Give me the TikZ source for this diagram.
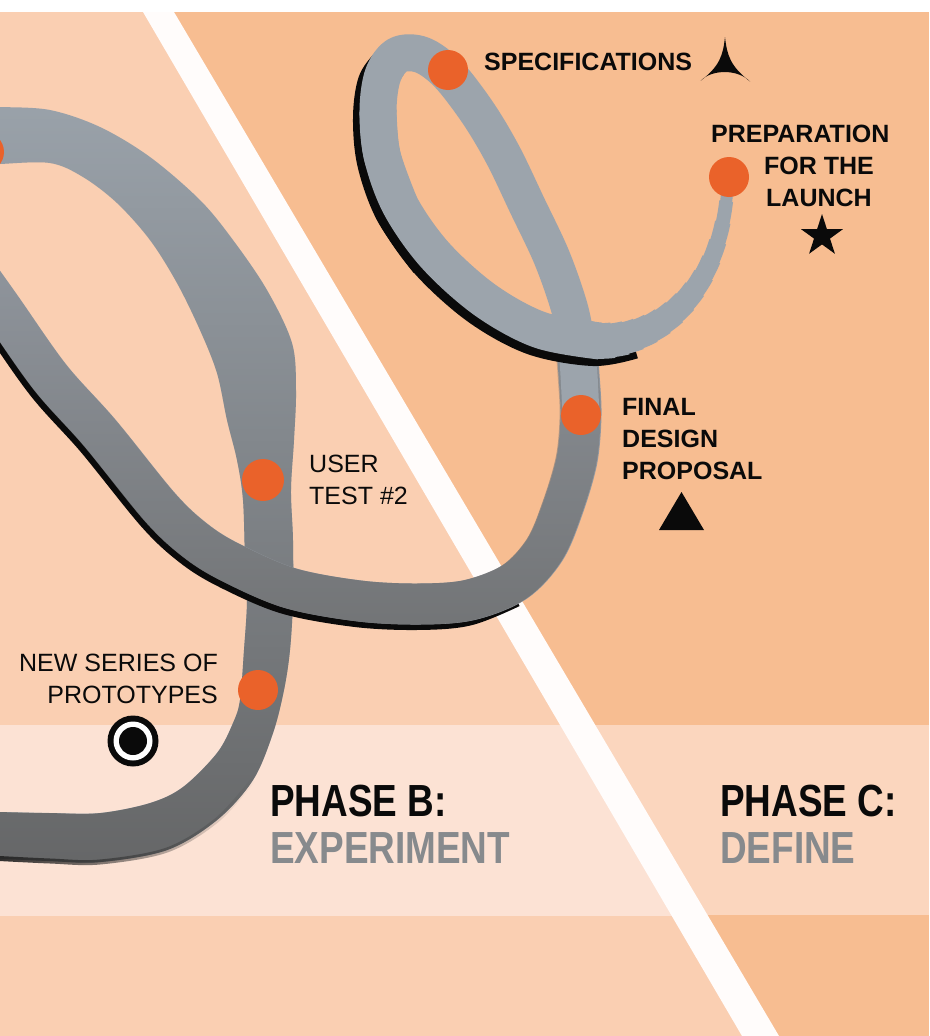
\documentclass[tikz,border=0pt]{standalone}
\usepackage{fontspec}
\setmainfont{Liberation Sans}
\newfontfamily\condfont[FakeStretch=0.82]{Liberation Sans}
\usetikzlibrary{fadings}
\definecolor{bgL}{HTML}{FACFB2}
\definecolor{bgR}{HTML}{F7BD91}
\definecolor{bandL}{HTML}{FCE2D4}
\definecolor{bandR}{HTML}{FBD6BE}
\definecolor{dotor}{HTML}{EA622A}
\definecolor{ribL}{HTML}{9AA2AA}
\definecolor{ribD}{HTML}{666768}
\definecolor{ribM}{HTML}{9298A0}
\definecolor{ribMD}{HTML}{737577}
\definecolor{ribR}{HTML}{9CA4AC}
\definecolor{phgray}{HTML}{878A8D}
\definecolor{ink}{HTML}{0A0A0A}
\tikzfading[name=fadeup, top color=transparent!100, bottom color=transparent!0]
\tikzfading[name=faderight, left color=transparent!0, right color=transparent!100]
\begin{document}
\begin{tikzpicture}[x=1pt,y=-1pt,
  dot/.style={circle, fill=dotor, minimum size=40pt, inner sep=0pt},
  lbl/.style={inner sep=0pt, text=ink, font=\fontsize{25}{32}\selectfont},
  lblb/.style={inner sep=0pt, text=ink, font=\fontsize{25}{32}\selectfont\bfseries},
  phase/.style={inner sep=0pt, text=ink, font=\condfont\fontsize{45}{47}\selectfont\bfseries},
  rib/.style={line width=#1pt, line cap=butt, line join=round},
  shad/.style={line width=#1pt, line cap=butt, line join=round, color=ink}]
\useasboundingbox (0,0) rectangle (929,1036);
\clip (0,0) rectangle (929,1036);
% ---------- background ----------
\fill[bgR] (0,0) rectangle (929,1036);
\fill[bgL] (0,12) -- (158,12) -- (760,1036) -- (0,1036) -- cycle;
\fill[bandR] (0,725) rectangle (929,915);
\begin{scope}
  \clip (0,725) rectangle (929,915);
  \fill[bandL] (0,12) -- (158,12) -- (760,1036) -- (0,1036) -- cycle;
\end{scope}
\fill[white] (0,0) rectangle (929,12);
\fill[white!96!bgR] (143,12) -- (174,12) -- (779,1036) -- (742,1036) -- cycle;
% ---------- ribbon, phase B loop (filled band of varying width) ----------
\def\pathA{plot[smooth, tension=0.55] coordinates {(-10,858) (50,861) (100,862) (167,850) (217,820) (253,780) (273,733) (284,690) (290,650) (293,600) (293,540) (291,490) (294,440) (296,390) (292,343) (267,290) (233,240) (200,200) (150,157) (100,127) (50,110) (0,107) (-10,107)}
  -- plot[smooth, tension=0.55] coordinates {(-10,165) (0,164) (50,163) (83,177) (117,203) (150,240) (177,283) (200,330) (217,373) (227,420) (237,460) (243,500) (245,560) (247,601) (244,650) (240,700) (233,723) (217,753) (183,787) (150,803) (100,813) (50,813) (0,812) (-10,812)} -- cycle}
\fill[ribL] \pathA;
\fill[ribD, path fading=fadeup] \pathA;
\draw[line width=5pt, color=black!85, path fading=faderight] plot[smooth, tension=0.55] coordinates {(-10,858) (50,861) (100,862) (167,850) (217,820) (253,780)};
% ---------- ribbon, sweep and phase C loop ----------
\def\pathBa{plot[smooth, tension=0.55] coordinates {(-40,250) (0,306) (50,377) (100,433) (160,507) (195,540) (230,562) (290,588) (360,601) (420,604) (470,600) (515,582) (545,550) (563,508) (577,460) (581,415) (579,375) (577,350)}}
\draw[shad=40, shift={(-4,6)}] plot[smooth, tension=0.55] coordinates {(-40,250) (0,306) (50,377) (100,433) (160,507) (195,540) (230,562) (290,588) (360,601) (420,604) (470,600) (515,582)};
\draw[shad=36, shift={(-7,7)}] plot[smooth, tension=0.55] coordinates {(398,55) (383,75) (378,110) (382,155) (400,205) (435,255)};
\draw[rib=41, ribM] \pathBa;
\draw[rib=41, ribMD, path fading=fadeup] \pathBa;
\draw[rib=37, ribR] plot[smooth, tension=0.55] coordinates {(581,415) (579,375) (577,350) (570,310) (552,258) (527,205) (503,155) (478,113) (448,74) (422,55) (398,55) (383,75) (378,110) (382,155) (400,205)};
\draw[shad=34, shift={(-7,8)}] plot[smooth, tension=0.55] coordinates {(382,155) (400,205) (435,255) (485,300) (540,330) (600,341) (640,334)};
\draw[rib=37, ribR] plot[smooth, tension=0.55] coordinates {(378,110) (382,155) (400,205) (435,255) (485,300) (540,330) (600,341)};
\foreach \k in {1,...,14} {
  \pgfmathsetmacro\tk{\k/14}
  \pgfmathsetmacro\wk{37.5-25.5*\tk}
  \draw[line width=\wk pt, ribR, line cap=butt] plot[domain=-0.06:\tk, samples=40, variable=\t, smooth]
    ({(1-\t)^3*600+3*(1-\t)^2*\t*660+3*(1-\t)*\t^2*724+\t^3*728},
     {(1-\t)^3*341+3*(1-\t)^2*\t*341+3*(1-\t)*\t^2*290+\t^3*178});
}
% ---------- milestones ----------
\node[dot] (prev) at (-16,152) {};
\node[dot] (spec) at (448,70) {};
\node[dot] (prep) at (729,177) {};
\node[dot] (final) at (581,415) {};
\node[dot, minimum size=42pt] (user) at (263,480) {};
\node[dot] (proto) at (258,690) {};
% ---------- labels ----------
\node[lblb, anchor=base west] (tspec) at (484,70) {SPECIFICATIONS};
\node[lblb, anchor=base west] (tprep) at (711,142) {\begin{tabular}[t]{@{}l@{}}PREPARATION\\\hspace*{53pt}FOR THE\\\hspace*{55pt}LAUNCH\end{tabular}};
\node[lblb, anchor=base west] (tfinal) at (622,415) {\begin{tabular}[t]{@{}l@{}}FINAL\\DESIGN\\PROPOSAL\end{tabular}};
\node[lbl, anchor=base west] (tuser) at (309,472) {\begin{tabular}[t]{@{}l@{}}USER\\TEST \#2\end{tabular}};
\node[lbl, anchor=base east] (tproto) at (218,671) {\begin{tabular}[t]{@{}r@{}}NEW SERIES OF\\PROTOTYPES\end{tabular}};
\node[phase, anchor=base west] (phB) at (270,816) {\begin{tabular}[t]{@{}l@{}}PHASE B:\\\textcolor{phgray}{EXPERIMENT}\end{tabular}};
\node[phase, anchor=base west] (phC) at (720,816) {\begin{tabular}[t]{@{}l@{}}PHASE C:\\\textcolor{phgray}{DEFINE}\end{tabular}};
% ---------- symbols ----------
\fill[ink] (725,37) .. controls (727,55) and (730,66) .. (750,81.5) .. controls (738,69) and (712,69) .. (700.7,80.7) .. controls (720,66) and (723,55) .. (725,37) -- cycle;
\fill[ink, shift={(822,236)}] (90:22pt) -- (126:8.4pt) -- (162:22pt) -- (198:8.4pt) -- (234:22pt) -- (270:8.4pt) -- (306:22pt) -- (342:8.4pt) -- (18:22pt) -- (54:8.4pt) -- cycle;
\fill[ink] (659,530) -- (704,530) -- (681.5,492) -- cycle;
\fill[ink] (133,741) circle (25.5pt);
\fill[white] (133,741) circle (19.5pt);
\fill[ink] (133,741) circle (14pt);
\end{tikzpicture}
\end{document}
